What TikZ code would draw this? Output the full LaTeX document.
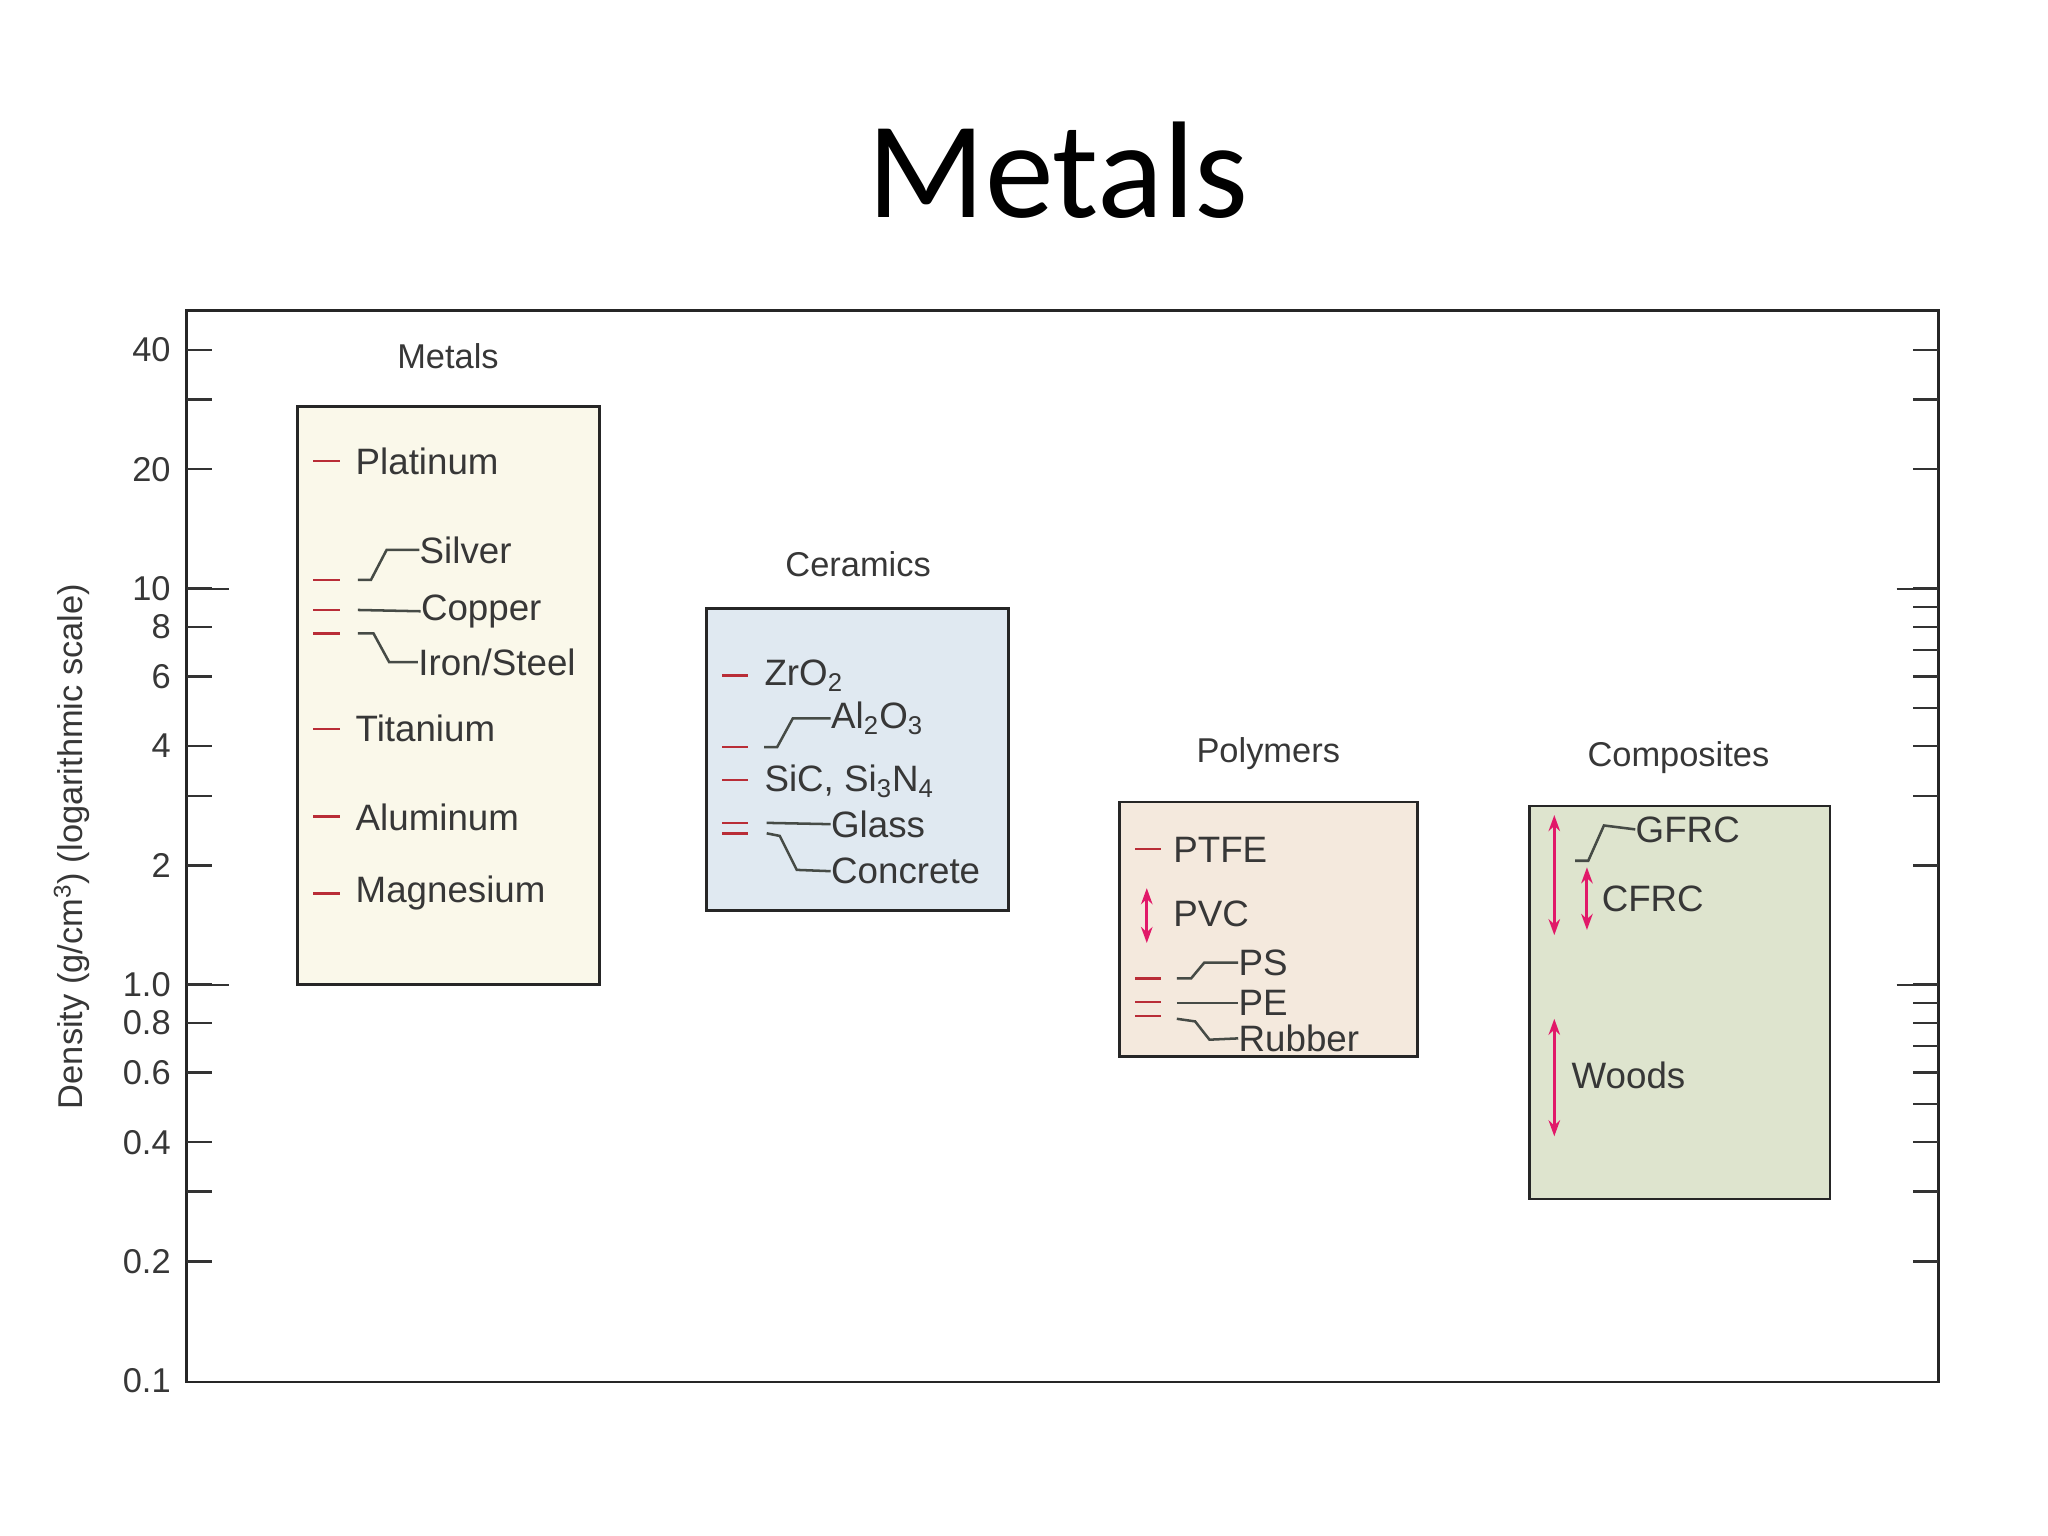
\documentclass[tikz,border=0pt]{standalone}
\usepackage{fontspec}
\setmainfont{Liberation Sans}
\newfontfamily\titlefont{Carlito}
\usetikzlibrary{arrows.meta}
\definecolor{tick}{RGB}{185,45,55}
\definecolor{mag}{RGB}{225,25,105}
\definecolor{lead}{RGB}{70,75,70}
\definecolor{txt}{RGB}{55,55,55}
\definecolor{mfill}{RGB}{250,248,234}
\definecolor{cfill}{RGB}{224,233,241}
\definecolor{pfill}{RGB}{244,233,221}
\definecolor{kfill}{RGB}{222,228,206}
\tikzset{
  lab/.style={anchor=west,inner sep=0pt,text=txt,font=\fontsize{16}{16}\selectfont},
  grp/.style={inner sep=0pt,text=txt,font=\fontsize{15}{15}\selectfont},
  num/.style={anchor=east,inner sep=0pt,text=txt,font=\fontsize{15}{15}\selectfont},
  bx/.style={draw=black!85,line width=1.2pt},
  rt/.style={draw=tick,line width=1.1pt},
  ld/.style={draw=lead,line width=1.1pt},
  dar/.style={draw=mag,line width=1.3pt,{Stealth[length=7pt,width=5pt]}-{Stealth[length=7pt,width=5pt]}},
  tk/.style={draw=black!80,line width=1pt}
}
\begin{document}
\begin{tikzpicture}[x=0.02cm,y=-0.02cm]
\useasboundingbox (0,0) rectangle (1568,1176);
\node[font=\titlefont\fontsize{60}{60}\selectfont,inner sep=0pt] (title) at (810,130) {Metals};
% frame
\draw[bx] (143,238) rectangle (1484,1058);
% ticks
\foreach \v in {40,30,20,10,8,6,4,3,2,1,0.8,0.6,0.4,0.3,0.2}{
  \pgfmathsetmacro\yy{1057-303.2*log10(\v/0.1)}
  \draw[tk] (143,\yy) -- (162,\yy);
}
\foreach \v in {40,30,20,10,9,8,7,6,5,4,3,2,1,0.9,0.8,0.7,0.6,0.5,0.4,0.3,0.2}{
  \pgfmathsetmacro\yy{1057-303.2*log10(\v/0.1)}
  \draw[tk] (1465,\yy) -- (1484,\yy);
}
\draw[tk] (143,451) -- (175,451);
\draw[tk] (143,754) -- (175,754);
\draw[tk] (1452,451) -- (1484,451);
\draw[tk] (1452,754) -- (1484,754);
\foreach \v/\t in {40/40,20/20,10/10,8/8,6/6,4/4,2/2,1/1.0,0.8/0.8,0.6/0.6,0.4/0.4,0.2/0.2,0.1/0.1}{
  \pgfmathsetmacro\yy{1057-303.2*log10(\v/0.1)}
  \node[num] at (131,\yy) {\t};
}
\node[grp,rotate=90] (ylab) at (55,648) {Density (g/cm\textsuperscript{3}) (logarithmic scale)};
% boxes
\draw[bx,fill=mfill] (228,311) rectangle (459,754);
\draw[bx,fill=cfill] (541,466) rectangle (772,697);
\draw[bx,fill=pfill] (857,614) rectangle (1085,809);
\draw[bx,fill=kfill] (1171,617) rectangle (1401,918);
\node[grp] (gm) at (343,273) {Metals};
\node[grp] (gc) at (657,432) {Ceramics};
\node[grp] (gp) at (971,577) {Polymers};
\node[grp] (gk) at (1285,580) {Composites};
% metals
\foreach \y in {353,444,467,485,558,625,684} \draw[rt] (240,\y) -- (260,\y);
\node[lab] (pt) at (272,353) {Platinum};
\node[lab] (ag) at (321,421) {Silver};
\node[lab] (cu) at (322,468) {Copper};
\node[lab] (fe) at (320,507) {Iron/Steel};
\node[lab] (ti) at (272,558) {Titanium};
\node[lab] (al) at (272,626) {Aluminum};
\node[lab] (mg) at (272,684) {Magnesium};
\draw[ld] (274,444) -- (284,444) -- (296,421) -- (ag.west);
\draw[ld] (274,467) -- (cu.west);
\draw[ld] (274,485) -- (286,485) -- (298,507) -- (fe.west);
% ceramics
\foreach \y in {517,572,597,630,638} \draw[rt] (553,\y) -- (573,\y);
\node[lab] (zr) at (585,517) {ZrO\textsubscript{2}};
\node[lab] (ao) at (636,550) {Al\textsubscript{2}O\textsubscript{3}};
\node[lab] (si) at (585,598) {SiC, Si\textsubscript{3}N\textsubscript{4}};
\node[lab] (gl) at (636,631) {Glass};
\node[lab] (co) at (636,667) {Concrete};
\draw[ld] (585,572) -- (595,572) -- (607,550) -- (ao.west);
\draw[ld] (587,630) -- (gl.west);
\draw[ld] (587,638) -- (597,640) -- (610,666) -- (co.west);
% polymers
\foreach \y in {650,749,767,778} \draw[rt] (869,\y) -- (889,\y);
\node[lab] (ptfe) at (898,651) {PTFE};
\node[lab] (pvc) at (898,700) {PVC};
\node[lab] (ps) at (948,737) {PS};
\node[lab] (pe) at (948,768) {PE};
\node[lab] (rb) at (948,795) {Rubber};
\coordinate (pva) at (878,680); \coordinate (pvb) at (878,722);
\draw[dar] (pva) -- (pvb);
\draw[ld] (901,749) -- (912,749) -- (922,737) -- (ps.west);
\draw[ld] (901,768) -- (pe.west);
\draw[ld] (901,780) -- (915,782) -- (926,796) -- (rb.west);
% composites
\node[lab] (gf) at (1252,635) {GFRC};
\node[lab] (cf) at (1226,688) {CFRC};
\node[lab] (wd) at (1203,823) {Woods};
\coordinate (ga) at (1190,624); \coordinate (gb) at (1190,716);
\coordinate (ca) at (1215,664); \coordinate (cb) at (1215,712);
\coordinate (wa) at (1190,780); \coordinate (wb) at (1190,870);
\draw[dar] (ga) -- (gb);
\draw[dar] (ca) -- (cb);
\draw[dar] (wa) -- (wb);
\draw[ld] (1206,659) -- (1216,659) -- (1228,632) -- (gf.west);
\end{tikzpicture}
\end{document}
